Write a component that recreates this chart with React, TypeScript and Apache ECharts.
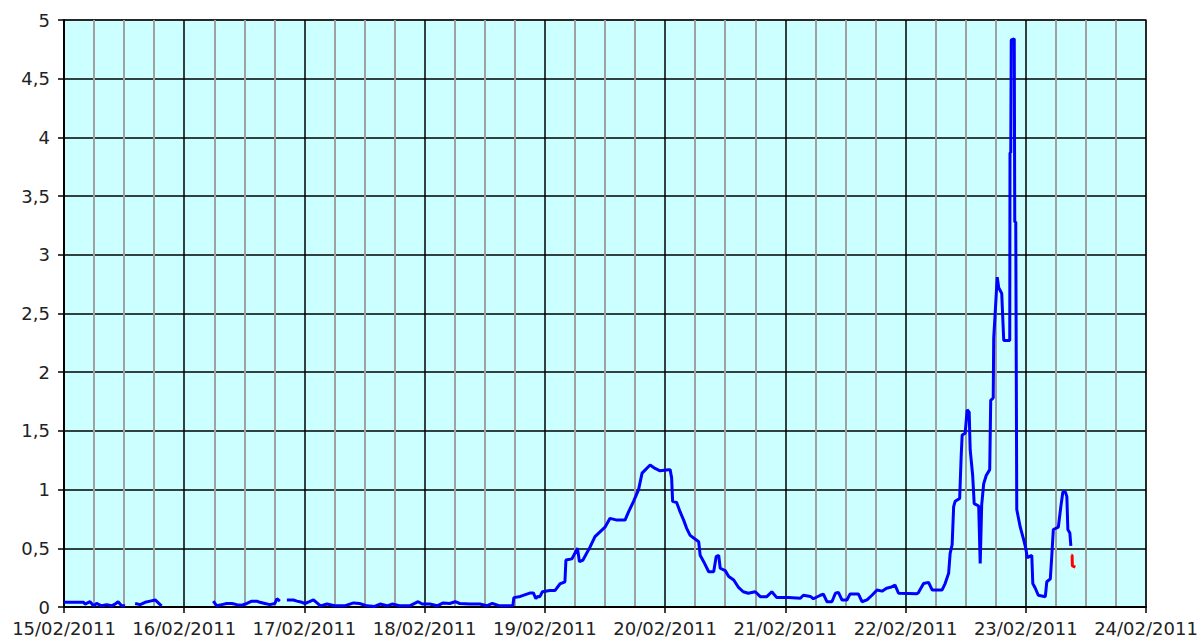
import React, { useEffect, useRef } from "react";
import * as echarts from "echarts";

// hours since 15/02/2011 00:00, value
const seg15a: [number, number][] = [
  [0, 0.04], [3.9, 0.04], [4.2, 0.025], [5.2, 0.045], [5.9, 0.01], [6.5, 0.03], [7.5, 0.01],
  [8.5, 0.02], [9.5, 0.01], [10.2, 0.025], [10.8, 0.045], [11.5, 0.01], [12.2, 0.01],
];
const seg15b: [number, number][] = [
  [14.2, 0.03], [15.2, 0.02], [16.2, 0.04], [17.2, 0.05], [18.2, 0.06], [19.2, 0.02], [19.5, 0.01],
];
const seg16: [number, number][] = [
  [29.8, 0.05], [30.5, 0.01], [31.5, 0.02], [32.5, 0.03], [33.5, 0.03], [34.5, 0.02], [35.5, 0.015],
  [36.5, 0.03], [37.5, 0.05], [38.5, 0.05], [39.1, 0.04], [40.1, 0.03], [41.1, 0.02], [42.1, 0.03],
  [42.5, 0.07], [43.1, 0.05],
];
const seg17: [number, number][] = [
  [44.5, 0.06], [45.8, 0.06], [46.5, 0.05], [47.5, 0.04], [48.1, 0.03], [49, 0.045], [49.8, 0.06],
  [50.5, 0.035], [51.2, 0.01], [52.5, 0.025], [54, 0.01], [56, 0.01], [57.8, 0.035], [59, 0.03],
  [60.5, 0.01], [62, 0.005], [63.1, 0.025], [64.5, 0.01], [65.5, 0.025], [67, 0.01], [69, 0.01],
  [69.7, 0.025], [70.7, 0.045], [71.5, 0.025], [73, 0.025], [74.5, 0.01], [75.7, 0.035], [77, 0.03],
  [78.1, 0.045], [79, 0.03], [81, 0.025], [83, 0.025], [84.4, 0.01], [85.5, 0.03], [87, 0.01],
  [89.6, 0.01], [89.8, 0.08], [91.1, 0.09], [92.4, 0.11], [93.1, 0.12], [93.7, 0.12], [94.2, 0.07],
  [94.5, 0.09], [95.0, 0.088], [95.5, 0.13], [97, 0.14], [98, 0.14], [99, 0.196], [100, 0.215],
];
const seg19: [number, number][] = [
  [100.2, 0.4], [101.4, 0.41], [102.5, 0.5], [102.9, 0.386], [103.6, 0.4], [105, 0.51], [106, 0.6],
  [107, 0.64], [108, 0.68], [109, 0.755], [110.4, 0.74], [112, 0.74], [112.7, 0.81], [113.7, 0.9],
  [114.7, 1.0], [115.4, 1.14], [117, 1.21], [118, 1.18], [119, 1.16], [120.7, 1.17], [121, 1.17],
];
const seg20: [number, number][] = [
  [121.3, 1.1], [121.5, 0.9], [122.3, 0.89], [123, 0.81], [123.7, 0.74], [124.3, 0.67], [125, 0.61],
  [126.7, 0.556], [127, 0.44], [127.7, 0.386], [128.7, 0.3], [129.7, 0.3], [130.2, 0.43], [130.7, 0.44],
  [131, 0.33], [132, 0.31], [132.7, 0.26], [133.7, 0.23], [134.6, 0.17], [135.6, 0.13], [136.6, 0.117],
  [138, 0.13], [139, 0.088], [140.3, 0.088], [141.3, 0.13], [142.3, 0.08], [144.6, 0.08],
];
const seg21: [number, number][] = [
  [147, 0.074], [147.6, 0.1], [149, 0.09], [149.6, 0.07], [151, 0.1], [151.6, 0.11], [152.3, 0.045],
  [153.3, 0.045], [154, 0.117], [154.6, 0.125], [155.3, 0.06], [156.3, 0.06], [156.9, 0.11],
  [158.6, 0.11], [159.3, 0.045], [160.3, 0.06], [161.3, 0.1], [162.3, 0.145], [163.3, 0.135],
  [164.2, 0.16], [165.2, 0.17], [165.9, 0.187], [166.6, 0.117], [170.3, 0.113],
];
const seg22: [number, number][] = [
  [170.6, 0.125], [171.6, 0.2], [172.6, 0.21], [173.3, 0.145], [175.3, 0.145], [175.9, 0.2],
  [176.6, 0.287], [176.9, 0.457], [177.3, 0.53], [177.6, 0.855], [177.9, 0.9], [178.8, 0.925],
  [179.1, 1.28], [179.3, 1.465], [179.9, 1.48], [180.3, 1.68], [180.7, 1.66], [180.9, 1.34],
  [181.4, 1.12], [181.7, 0.88], [182.6, 0.86], [182.9, 0.37], [183.2, 0.87], [183.6, 1.05],
  [184.1, 1.12], [184.8, 1.17], [185.0, 1.76], [185.5, 1.78], [185.6, 2.29], [185.9, 2.51],
  [186.3, 2.81], [186.6, 2.72], [187.2, 2.67], [187.6, 2.27], [188.8, 2.27], [188.85, 3.87],
  [189.0, 3.87], [189.1, 4.83], [189.7, 4.84], [189.8, 3.28], [190.0, 3.28], [190.2, 0.83],
];
const seg23: [number, number][] = [
  [190.9, 0.68], [191.6, 0.57], [192.0, 0.5], [192.3, 0.42], [193.2, 0.44], [193.4, 0.2],
  [193.9, 0.16], [194.5, 0.1], [195.9, 0.088], [196.2, 0.215], [196.9, 0.24], [197.2, 0.44],
  [197.5, 0.66], [198.5, 0.68], [199.0, 0.855], [199.4, 0.98], [199.9, 0.98], [200.2, 0.94],
  [200.4, 0.66], [200.8, 0.63], [201.0, 0.52],
];
const provisional: [number, number][] = [
  [201.1, 0.44], [201.25, 0.44], [201.3, 0.35], [201.9, 0.34],
];

const startDay = 15;
const dayCount = 9;
const yTicks = [0, 0.5, 1, 1.5, 2, 2.5, 3, 3.5, 4, 4.5, 5];

const GAP: any = "-";

function build(): any[] {
  const segs = [seg15a, seg15b, seg16, seg17.concat(seg19, seg20, seg21, seg22, seg23)];
  const out: any[] = [];
  segs.forEach((s, i) => {
    if (i > 0) out.push([s[0][0] - 0.05, GAP]);
    s.forEach((p) => out.push(p));
  });
  return out;
}

const fontFamily = "DejaVu Sans, Verdana, sans-serif";

export default function App() {
  const ref = useRef<HTMLDivElement>(null);
  useEffect(() => {
    if (!ref.current) return;
    const chart = echarts.init(ref.current, null, { renderer: "svg" });
    chart.setOption({
      animation: false,
      backgroundColor: "#ffffff",
      grid: {
        left: 64,
        top: 20,
        right: 56,
        bottom: 34,
        show: true,
        backgroundColor: "#ccffff",
        borderColor: "#9a9a9a",
        borderWidth: 2,
      },
      xAxis: {
        type: "value",
        min: 0,
        max: dayCount * 24,
        interval: 24,
        axisLine: { show: true, onZero: false, lineStyle: { color: "#000", width: 2 } },
        axisTick: { show: true, length: 6, lineStyle: { color: "#000", width: 1.5 } },
        axisLabel: {
          margin: 12,
          fontFamily,
          fontSize: 18,
          color: "#222",
          showMinLabel: true,
          showMaxLabel: true,
          formatter: (v: number) => {
            const d = startDay + Math.round(v / 24);
            return `${d}/02/2011`;
          },
        },
        splitLine: { show: true, lineStyle: { color: "#000", width: 1.5 } },
        minorTick: { show: false, splitNumber: 4 },
        minorSplitLine: { show: true, lineStyle: { color: "#a0a0a0", width: 2 } },
      },
      yAxis: {
        type: "value",
        min: 0,
        max: 5,
        interval: 0.5,
        axisLine: { show: true, lineStyle: { color: "#000", width: 2 } },
        axisTick: { show: true, length: 6, lineStyle: { color: "#000", width: 1.5 } },
        axisLabel: {
          margin: 14,
          fontFamily,
          fontSize: 18,
          color: "#222",
          formatter: (v: number) => (yTicks.includes(v) ? String(v).replace(".", ",") : ""),
        },
        splitLine: { show: true, lineStyle: { color: "#000", width: 1.5 } },
      },
      series: [
        {
          type: "line",
          data: build(),
          showSymbol: false,
          symbol: "none",
          connectNulls: false,
          lineStyle: { color: "#0000ff", width: 3 },
          z: 3,
        },
        {
          type: "line",
          data: provisional,
          showSymbol: false,
          symbol: "none",
          lineStyle: { color: "#ff0000", width: 3 },
          z: 3,
        },
      ],
    });
    return () => chart.dispose();
  }, []);
  return (
    <div
      ref={ref}
      style={{ position: "fixed", left: 0, top: 0, width: 1202, height: 641 }}
    />
  );
}
